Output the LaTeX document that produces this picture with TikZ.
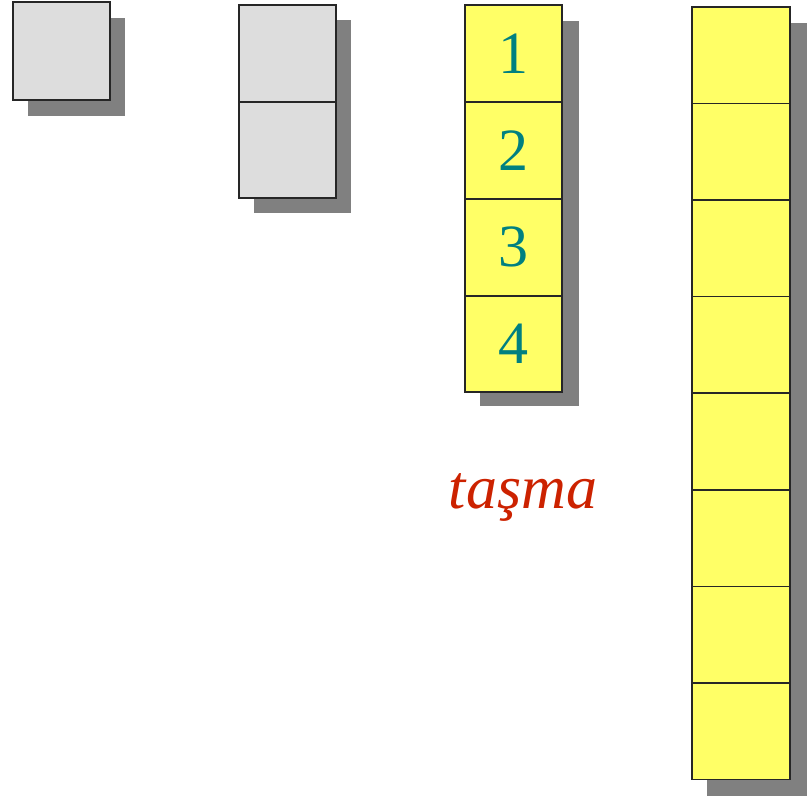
\documentclass[tikz,border=0pt]{standalone}
\usepackage{fontspec}
\setmainfont{Liberation Serif}
\definecolor{cellgray}{HTML}{DDDDDD}
\definecolor{cellyellow}{HTML}{FFFF66}
\definecolor{shadowgray}{HTML}{808080}
\definecolor{numteal}{HTML}{008080}
\definecolor{labelred}{HTML}{CC2200}
\tikzset{
  cell/.style={draw=black!85, line width=1.6pt, minimum width=97pt, minimum height=97pt, inner sep=0pt, anchor=north west, text=numteal, font=\fontsize{60}{64}\selectfont},
  graycell/.style={cell, fill=cellgray},
  yellowcell/.style={cell, fill=cellyellow},
  shadowbox/.style={fill=shadowgray, draw=none}
}
\begin{document}
\begin{tikzpicture}[x=1pt,y=-1pt]
\useasboundingbox (0,0) rectangle (807,796);
% shadows
\fill[shadowbox] (28,18) rectangle (125,116);
\fill[shadowbox] (254,20) rectangle (351,213);
\fill[shadowbox] (480,21) rectangle (579,406);
\fill[shadowbox] (707,23) rectangle (807,796);
% column 1
\node[graycell, minimum height=98pt] (a1) at (12,1) {};
% column 2
\node[graycell] (b1) at (238,4) {};
\node[graycell, minimum height=96pt] (b2) at (238,101) {};
% column 3
\node[yellowcell] (c1) at (464,4) {1};
\node[yellowcell] (c2) at (464,101) {2};
\node[yellowcell] (c3) at (464,198) {3};
\node[yellowcell, minimum height=96pt] (c4) at (464,295) {4};
% column 4
\foreach \i in {1,...,8} {
  \node[yellowcell, minimum width=98pt, minimum height=96.6pt] (d\i) at (691,{6+(\i-1)*96.6}) {};
}
% label
\node[text=labelred, font=\fontsize{62}{70}\selectfont\itshape, anchor=base] (lbl) at (523,508) {taşma};
\end{tikzpicture}
\end{document}
